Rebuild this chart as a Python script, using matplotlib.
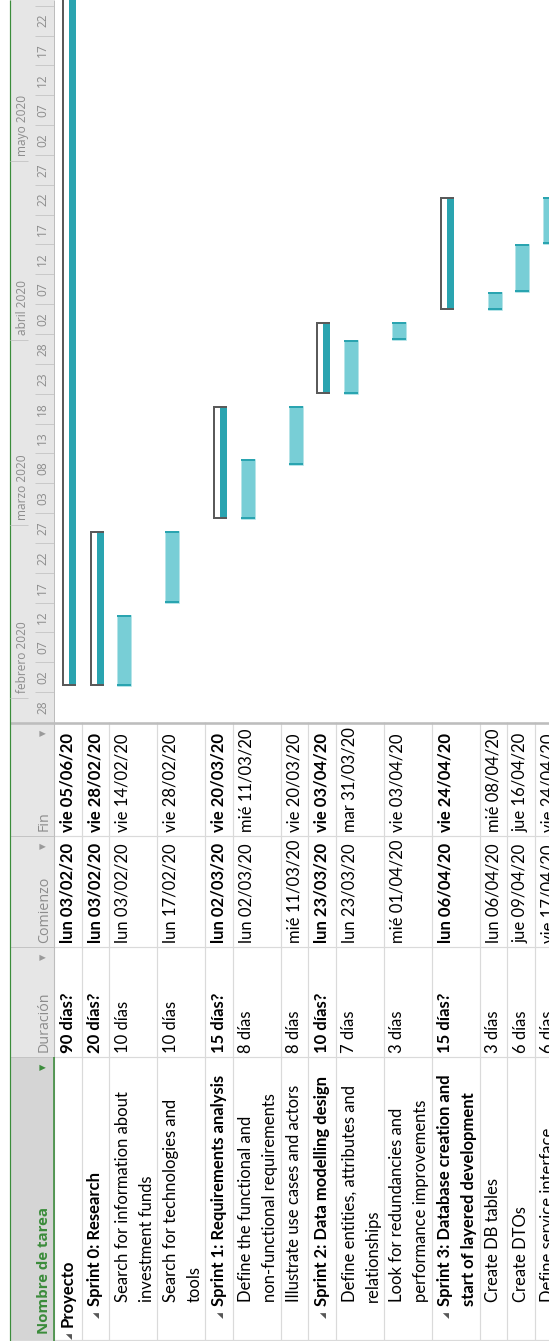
import matplotlib
matplotlib.use("Agg")
import matplotlib.pyplot as plt
import matplotlib.dates as mdates
import pandas as pd
import numpy as np

# ---------------- data ----------------
task_names = [
    "Proyecto",
    "Sprint 0: Research",
    "Search for information about\ninvestment funds",
    "Search for technologies and\ntools",
    "Sprint 1: Requirements analysis",
    "Define the functional and\nnon-functional requirements",
    "Illustrate use cases and actors",
    "Sprint 2: Data modelling design",
    "Define entities, attributes and\nrelationships",
    "Look for redundancies and\nperformance improvements",
    "Sprint 3: Database creation and\nstart of layered development",
    "Create DB tables",
    "Create DTOs",
    "Define service interface",
]
task_levels = [0, 1, 2, 2, 1, 2, 2, 1, 2, 2, 1, 2, 2, 2]
task_durations = ["90 días?", "20 días?", "10 días", "10 días", "15 días?", "8 días", "8 días",
                  "10 días?", "7 días", "3 días", "15 días?", "3 días", "6 días", "6 días"]
task_starts = ["2020-02-03", "2020-02-03", "2020-02-03", "2020-02-17", "2020-03-02", "2020-03-02",
               "2020-03-11", "2020-03-23", "2020-03-23", "2020-04-01", "2020-04-06", "2020-04-06",
               "2020-04-09", "2020-04-17"]
task_ends = ["2020-06-05", "2020-02-28", "2020-02-14", "2020-02-28", "2020-03-20", "2020-03-11",
             "2020-03-20", "2020-04-03", "2020-03-31", "2020-04-03", "2020-04-24", "2020-04-08",
             "2020-04-16", "2020-04-24"]
weekday_abbr = ["lun", "mar", "mié", "jue", "vie", "sáb", "dom"]
column_headers = ["Nombre de tarea", "Duración", "Comienzo", "Fin"]
month_labels = ["febrero 2020", "marzo 2020", "abril 2020", "mayo 2020"]
month_starts = ["2020-02-01", "2020-03-01", "2020-04-01", "2020-05-01"]
timescale_start = "2020-01-28"
timescale_step_days = 5

# ---------------- layout ----------------
W, H, DPI = 549, 1341, 100
HDR_X0, HDR_X1 = 10, 54          # header band (image x)
PANE_Y = 722                      # gantt pane / table boundary (image y)
COL_EDGES = [1341, 1057, 947, 836, 722]   # name | duration | start | end (image y)
TEXT_START = {"dur": 1053, "start": 943, "end": 832}
NAME_START = {0: 1327, 1: 1306, 2: 1302}
TRI_POS = {0: 1339, 1: 1318}
HDR_TEXT_START = [1334, 1052, 943, 831]
HDR_TRI = [1067, 957, 846, 733]
PX_PER_DAY = 5.969
ROW_H = {1: 27.5, 2: 48.0}
ROW_X0 = 54.3
LINE_SP = 24.0

GRID = '#DADADA'
HDR_BG = '#E6E6E6'
HDR_SEL = '#D5D5D5'
GREEN = '#3B8C3B'
HDR_TXT = '#8C8C8C'
TEAL = '#2AA4B0'
LIGHT = '#78CED6'
DARK = '#5A5A5A'

TFONT = ['Lato', 'DejaVu Sans']
HFONT = ['Open Sans', 'DejaVu Sans']
TSIZE = 12
px = 0.72  # 1 pixel in points

fig = plt.figure(figsize=(W / DPI, H / DPI), dpi=DPI)
fig.patch.set_facecolor('white')

bg = fig.add_axes([0, 0, 1, 1])
bg.set_xlim(0, W)
bg.set_ylim(H, 0)
bg.axis('off')

n_lines = [len(n.split("\n")) for n in task_names]
row_h = np.array([ROW_H[k] for k in n_lines])
row_bounds = ROW_X0 + np.concatenate([[0], np.cumsum(row_h)])
row_starts = row_bounds[:-1]

# header band
bg.axvspan(HDR_X0, HDR_X1, color=HDR_BG, lw=0, zorder=0)
bg.fill_betweenx([COL_EDGES[1], H], HDR_X0, HDR_X1, color=HDR_SEL, lw=0, zorder=0.5)

# grid of table
bg.vlines(row_bounds, PANE_Y, H, colors=GRID, lw=1.2 * px, zorder=1)
bg.hlines(COL_EDGES[1:4], HDR_X1, W, colors=GRID, lw=1.2 * px, zorder=1)
bg.hlines(COL_EDGES[1:4], HDR_X0, HDR_X1, colors='#C4C4C4', lw=1 * px, zorder=1)
bg.hlines(H - 1, HDR_X0, W, colors=GRID, lw=1.2 * px, zorder=1)
bg.hlines(PANE_Y + 1.3, HDR_X0, W, colors='#BDBDBD', lw=2.6 * px, zorder=2)
bg.vlines(HDR_X0, 0, H, colors=GREEN, lw=1.2 * px, zorder=2)
bg.vlines(HDR_X1, 0, H, colors='#BDBDBD', lw=1 * px, zorder=2)
bg.vlines(HDR_X1, COL_EDGES[1], H, colors=GREEN, lw=1.6 * px, zorder=2)

# column headers
for k, (lab, y0, ty) in enumerate(zip(column_headers, HDR_TEXT_START, HDR_TRI)):
    if k == 0:
        bg.text(44.5, y0, lab, rotation=90, rotation_mode='anchor', ha='left', va='center',
                fontsize=10.8, color=GREEN, family=HFONT, fontweight='bold', zorder=3)
        tc = GREEN
    else:
        bg.text(44.5, y0, lab, rotation=90, rotation_mode='anchor', ha='left', va='center',
                fontsize=10.3, color=HDR_TXT, family=HFONT, zorder=3)
        tc = '#9A9A9A'
    bg.text(44, ty, "▾", rotation=90, ha='center', va='center', fontsize=9,
            color=tc, family=['DejaVu Sans'], zorder=3)


def fmt_date(s):
    t = pd.Timestamp(s)
    return f"{weekday_abbr[t.weekday()]} {t:%d/%m/%y}"


# table rows
for i, name in enumerate(task_names):
    lev = task_levels[i]
    fw = 'bold' if lev <= 1 else 'normal'
    x1 = row_starts[i] + 13.5
    for j, line in enumerate(name.split("\n")):
        bg.text(x1 + j * LINE_SP, NAME_START[lev], line, rotation=90, rotation_mode='anchor',
                ha='left', va='center', fontsize=TSIZE, fontweight=fw, family=TFONT,
                color='black', zorder=3)
    if lev <= 1:
        bg.text(x1 + 1.5, TRI_POS[lev], "◢", rotation=90, rotation_mode='anchor', ha='left',
                va='center', fontsize=5.5, color='#555555', family=['DejaVu Sans'], zorder=3)
    for key, txt in (("dur", task_durations[i]), ("start", fmt_date(task_starts[i])),
                     ("end", fmt_date(task_ends[i]))):
        bg.text(x1, TEXT_START[key], txt, rotation=90, rotation_mode='anchor', ha='left',
                va='center', fontsize=TSIZE, fontweight=fw, family=TFONT, color='black',
                zorder=3)

# ---------------- gantt pane ----------------
t0 = mdates.date2num(pd.Timestamp(timescale_start))
span_days = PANE_Y / PX_PER_DAY
rect = [HDR_X1 / W, 1 - PANE_Y / H, (W - HDR_X1) / W, PANE_Y / H]
gx = fig.add_axes(rect)
gx.set_xlim(HDR_X1, W)
gx.set_ylim(t0, t0 + span_days)
gx.axis('off')
gx.patch.set_visible(False)

cap = 2.0 / PX_PER_DAY
BAR_OFF, BAR_W = 8.0, 14.0
for i in range(len(task_names)):
    s = mdates.date2num(pd.Timestamp(task_starts[i]))
    e = mdates.date2num(pd.Timestamp(task_ends[i])) + 1
    x0 = row_starts[i] + BAR_OFF
    if task_levels[i] <= 1:
        gx.bar(x0, e - s, width=BAR_W, bottom=s, align='edge', color=DARK, lw=0)
        gx.bar(x0 + 2, e - s - 2 * cap, width=5, bottom=s + cap, align='edge', color='white', lw=0)
        gx.bar(x0 + 7, e - s - 2 * cap, width=BAR_W - 7, bottom=s + cap, align='edge',
               color=TEAL, lw=0)
    else:
        gx.bar(x0, e - s, width=BAR_W, bottom=s, align='edge', color=LIGHT,
               edgecolor='#B3E3E7', lw=0.6 * px)
        gx.bar(x0, cap, width=BAR_W, bottom=s, align='edge', color=TEAL, lw=0)
        gx.bar(x0, cap, width=BAR_W, bottom=e - cap, align='edge', color=TEAL, lw=0)

# ---------------- timescale header ----------------
tx = fig.add_axes([HDR_X0 / W, 1 - PANE_Y / H, (HDR_X1 - HDR_X0) / W, PANE_Y / H])
tx.set_xlim(HDR_X0, HDR_X1)
tx.set_ylim(t0, t0 + span_days)
tx.axis('off')
tx.patch.set_visible(False)

ticks = pd.date_range(timescale_start, periods=int(span_days // timescale_step_days) + 2,
                      freq=f"{timescale_step_days}D")
tnum = mdates.date2num(ticks)
tx.hlines(tnum, 35, 53.5, colors='#C9C9C9', lw=1 * px)
for d, tn in zip(ticks, tnum):
    tx.text(42.5, tn + timescale_step_days / 2, f"{d:%d}", rotation=90, ha='center',
            va='center', fontsize=8.6, color=HDR_TXT, family=HFONT)

mnum = mdates.date2num(pd.to_datetime(month_starts))
tx.hlines(mnum, HDR_X0, 28, colors='#C9C9C9', lw=1 * px)
for lab, mn in zip(month_labels, mnum):
    tx.text(22.5, mn + 5 / PX_PER_DAY, lab, rotation=90, rotation_mode='anchor', ha='left',
            va='center', fontsize=8.6, color=HDR_TXT, family=HFONT)

fig.savefig("out.png", dpi=DPI, facecolor='white')
